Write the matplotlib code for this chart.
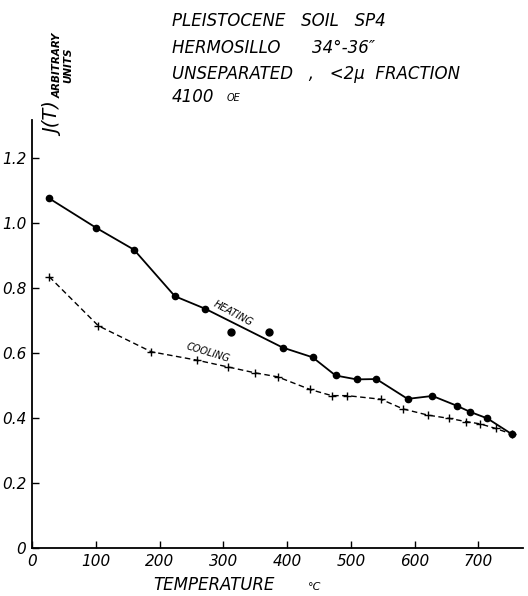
import matplotlib
matplotlib.use("Agg")
import matplotlib.pyplot as plt

# heating curve (points on the line)
heat_t = [27, 101, 160, 224, 272, 393, 440, 476, 509, 540, 589, 628, 666, 687, 714, 752]
heat_j = [1.076, 0.985, 0.918, 0.775, 0.736, 0.617, 0.587, 0.531, 0.519, 0.520, 0.459, 0.468, 0.438, 0.419, 0.399, 0.351]
# two heating points off the line
off_t = [312, 372]
off_j = [0.664, 0.665]
# cooling curve
cool_t = [27, 104, 187, 259, 308, 350, 385, 436, 470, 494, 547, 582, 621, 654, 681, 703, 727, 752]
cool_j = [0.835, 0.684, 0.604, 0.578, 0.557, 0.539, 0.527, 0.488, 0.469, 0.469, 0.458, 0.428, 0.409, 0.399, 0.389, 0.382, 0.368, 0.351]

xticks = [0, 100, 200, 300, 400, 500, 600, 700]
yticks = [0, 0.2, 0.4, 0.6, 0.8, 1.0, 1.2]
ylabels = ["0", "0.2", "0.4", "0.6", "0.8", "1.0", "1.2"]

fig = plt.figure(figsize=(5.28, 5.96), dpi=100)
ax = fig.add_axes([0.0606, 0.0805, 0.93, 0.718])

ax.plot(heat_t, heat_j, "-", color="black", lw=1.3, marker="o", ms=4.5)
ax.plot(off_t, off_j, "o", color="black", ms=5)
ax.plot(cool_t, cool_j, "--", color="black", lw=1.0, marker="+", ms=6, mew=1.0,
        dashes=(4, 2.5))

ax.set_xlim(0, 770)
ax.set_ylim(0, 1.317)
ax.spines["top"].set_visible(False)
ax.spines["right"].set_visible(False)
ax.spines["left"].set_linewidth(1.3)
ax.spines["bottom"].set_linewidth(1.3)
ax.set_xticks(xticks)
ax.set_xticklabels([str(v) for v in xticks], style="italic", fontsize=11)
ax.set_yticks(yticks)
ax.set_yticklabels(ylabels, style="italic", fontsize=11)
ax.tick_params(direction="in", length=5, width=1.0, pad=4)

ax.text(315, 0.723, "HEATING", rotation=-28, fontsize=7, style="italic",
        ha="center", va="center")
ax.text(276, 0.600, "COOLING", rotation=-17, fontsize=7, style="italic",
        ha="center", va="center")

fig.text(214 / 528, 1 - 585 / 596, "TEMPERATURE", fontsize=12, style="italic",
         ha="center", va="center")
fig.text(315 / 528, 1 - 587 / 596, "°C", fontsize=8, style="italic",
         ha="center", va="center")

fig.text(55 / 528, 1 - 120 / 596, "J(T)", rotation=90, fontsize=14, style="italic",
         ha="center", va="center")
fig.text(63 / 528, 1 - 65 / 596, "ARBITRARY\nUNITS", rotation=90, fontsize=7.5,
         style="italic", weight="bold", ha="center", va="center", linespacing=1.0)

title_lines = ["PLEISTOCENE   SOIL   SP4",
               "HERMOSILLO      34°-36\u2033",
               "UNSEPARATED   ,   <2\u03bc  FRACTION"]
ys = [21, 48, 74]
for line, y in zip(title_lines, ys):
    fig.text(172 / 528, 1 - y / 596, line, fontsize=12, style="italic",
             ha="left", va="center")
fig.text(172 / 528, 1 - 97 / 596, "4100", fontsize=12, style="italic",
         ha="left", va="center")
fig.text(227 / 528, 1 - 98 / 596, "OE", fontsize=7, style="italic",
         ha="left", va="center")

fig.savefig("out.png", dpi=100)
